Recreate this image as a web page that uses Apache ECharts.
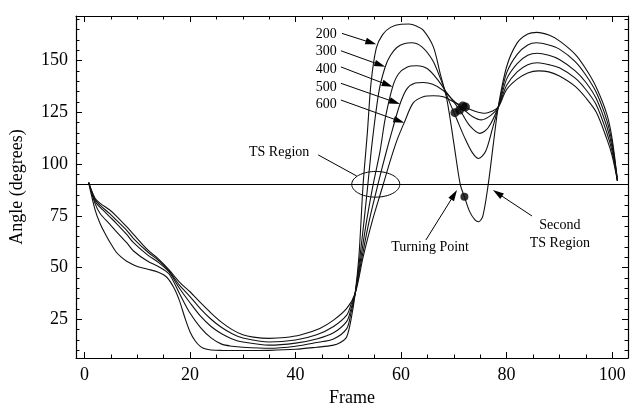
<!DOCTYPE html>
<html>
<head>
<meta charset="utf-8">
<script src="https://cdn.jsdelivr.net/npm/echarts@6/dist/echarts.min.js"></script>
<style>html,body{margin:0;padding:0;background:#fff}#c{width:630px;height:404px}</style>
</head>
<body>
<div id="c"></div>
<script>
// ---- Data ----
const curve200 = [[0.8,91],[2,78],[3,71],[4,66],[5,61.5],[6,57.5],[7,55],[8,53],[10,50.5],[12,49.2],[14,47.7],[15.6,45.3],[17,40],[18,34],[19,26],[20,19],[21,14.5],[22,11.8],[23,10.6],[24,10.2],[26,10],[30,9.9],[35,10],[40,10.5],[44,11.5],[47,12.4],[48.5,13.8],[49.7,16.6],[50.6,26],[51.3,37.5],[52,55],[52.4,72],[52.8,90],[53.6,114.8],[54.3,139],[55.3,156],[56.5,162.5],[58,166],[60,167.5],[61.5,167.6],[63,166.5],[64.2,164.7],[66.1,156.7],[67.4,143.8],[68.7,130.9],[70,110],[71.2,90.3],[72,84.2],[73,77],[74,73],[74.7,72.1],[75.5,75],[76.5,89.9],[77.5,110],[78.4,127.4],[80,147],[82,158.5],[84,162.8],[85.7,163.6],[88,162.3],[90,159.5],[93,153],[95,146],[97,137],[99,124],[100,112],[101,92]];
const curve300 = [[0.8,91],[2,81],[3,76],[4.8,71],[6,67.5],[8,62],[9.3,58],[12,53],[14,50.5],[16,47],[18,37.5],[20,28],[22,21],[24,16],[26,13],[28,12],[30,11.5],[35,11],[40,12],[44,13.8],[47.2,15.5],[49.7,20.5],[50.5,28],[51.3,37.5],[52.2,55],[53,73],[53.7,90],[54.5,110],[55.8,135],[57,147],[58,152.5],[59.2,156.3],[60.7,158.2],[62,158.6],[64,156.5],[66,150],[67.5,141],[69,131],[70.5,122],[72,113],[73.5,105.5],[74.7,102.7],[76,106],[77.3,117],[78.4,127.4],[80,144],[82,153],[84,157.5],[85.7,158.6],[88,157.5],[90,155.5],[93,149.5],[95,143],[97,134.5],[99,121],[100,110],[101,92]];
const curve400 = [[0.8,91],[2,82],[3,79],[4.8,74.5],[6,71.5],[8,66],[9.3,62],[12,56],[14,52.5],[16,48],[18,40],[20,33],[22,26.5],[24,21.5],[26,18],[28,15.5],[30,14],[35,12.5],[40,13.5],[44,15.5],[47.2,18.5],[49.7,24],[50.5,30],[51.3,37.5],[52.4,55],[53.5,73],[54.7,90],[56,106],[57,122],[58.4,137.3],[59.5,143.5],[61.1,146.8],[63,147.5],[65,146],[67,140.5],[68.5,135],[70,130],[71.5,124.5],[73,118.5],[74.9,114.8],[76.5,117.5],[78.4,127.4],[80,141],[82,148.5],[84,152.5],[85.8,153.5],[88,152.5],[90,150.5],[93,145],[95,139.5],[97,131.5],[99,118],[100,108],[101,92]];
const curve500 = [[0.8,91],[2,83],[3,80],[4.8,76],[6,73],[8,68],[9.3,64],[12,57.5],[14,53.5],[16,48.5],[18,41.5],[20,36],[22,30],[24,25],[26,21],[28,18],[30,16],[35,14],[40,15],[44,17.5],[47.2,21.5],[49.7,27],[50.5,32],[51.3,37.5],[52.6,55],[54,73],[55.6,90],[57,104],[58.4,117],[59.8,129],[61.1,136.3],[62.7,139.1],[64.2,139.4],[66,138.5],[68,135.5],[70,130.5],[72,126],[73.5,123],[75.2,121.3],[77,123.5],[78.4,127.4],[80,138],[82,144.5],[84,148],[85.9,148.9],[88,148],[90,146.5],[93,141.5],[95,136],[97,128.5],[99,115],[100,106],[101,92]];
const curve600 = [[0.8,91],[2,83.5],[3,81],[4.8,77.8],[6,75],[8,69.7],[9.3,66],[12,58.5],[14,54.2],[16,49],[18,43],[20,38.3],[22,33],[24,28],[26,23.5],[28,20],[30,17.5],[32,16.4],[35,15.8],[38,16.2],[40.9,17.4],[44.6,20.6],[47.2,24.6],[49.7,30.3],[51.3,37.5],[52.8,55],[54.6,73],[56.6,90],[58,102],[59.3,112],[60.6,120],[62.3,129.5],[64.2,132.5],[66.1,133],[68,132.5],[70,130],[72,127.5],[74,125.5],[75.9,124.5],[77.2,125.5],[78.4,127.4],[80,136],[82,141],[84,144],[86,145],[88,144.5],[90,142.5],[93,137.5],[95,132],[97,125],[99,112],[100,104],[101,92]];

const seriesNames = ['200','300','400','500','600'];
const seriesLabelX = 47.8;
const seriesLabelY = [162.8,154.2,145.9,137.0,128.9];
const seriesArrows = [[48.8,163.1,55.3,157.8],[48.6,154.7,57.0,147.0],[48.6,146.9,58.4,137.3],[48.6,139.0,59.8,129.0],[48.6,130.9,60.6,119.9]];
const otherArrows = [[64.7,63.3,70.6,87.4],[84.8,74.9,77.4,87.4]];
const leaderLines = [[44.3,104.4,51.6,94.2]];
const noteTexts = ['TS Region','Turning Point','Second','TS Region'];
const notePos = [[36.9,105.8],[65.5,60.0],[90.1,70.5],[90.1,61.7]];
const tsEllipse = [[55.2,90.2,4.55,6.2]]; // cx, cy, rx, ry (data units)
const clusterDots = [[70.2,124.8],[71.1,126.1],[71.7,128.0],[72.2,127.6]];
const turningDot = [[72.0,84.2]];
const refLineY = 90;

const xMajor = [0,20,40,60,80,100];
const xMinor = [5,10,15,25,30,35,45,50,55,65,70,75,85,90,95];
const yMajor = [25,50,75,100,125,150];
const yMinor = [10,15,20,30,35,40,45,55,60,65,70,80,85,90,95,105,110,115,120,130,135,140,145,155,160,165,170];
const xRange = [-1.6, 103];
const yRange = [6.3, 171.5];

// ---- Chart ----
const FONT = '"Liberation Serif", "Times New Roman", serif';
const chart = echarts.init(document.getElementById('c'), null, {renderer:'canvas'});

function xAxisDef(pos, ticks, len, showLine, showLabel) {
  return {
    type:'value', min:xRange[0], max:xRange[1], position:pos,
    splitLine:{show:false},
    axisLine:{show:showLine, onZero:false, lineStyle:{color:'#000', width:1.2}},
    axisTick:{show:true, inside:true, length:len, customValues:ticks, lineStyle:{color:'#000', width:1}},
    axisLabel:showLabel ? {show:true, customValues:ticks, color:'#000', fontSize:18, fontFamily:FONT, margin:8} : {show:false}
  };
}
function yAxisDef(pos, ticks, len, showLine, showLabel) {
  return {
    type:'value', min:yRange[0], max:yRange[1], position:pos,
    splitLine:{show:false},
    axisLine:{show:showLine, onZero:false, lineStyle:{color:'#000', width:1.2}},
    axisTick:{show:true, inside:true, length:len, customValues:ticks, lineStyle:{color:'#000', width:1}},
    axisLabel:showLabel ? {show:true, customValues:ticks, color:'#000', fontSize:18, fontFamily:FONT, margin:8} : {show:false}
  };
}

const xAxes = [
  Object.assign(xAxisDef('bottom', xMajor, 6, true, true), {name:'Frame', nameLocation:'middle', nameGap:27, nameTextStyle:{color:'#000', fontSize:18, fontFamily:FONT}}),
  xAxisDef('bottom', xMinor, 3.5, false, false),
  xAxisDef('top', xMajor, 6, true, false),
  xAxisDef('top', xMinor, 3.5, false, false)
];
const yAxes = [
  Object.assign(yAxisDef('left', yMajor, 6, true, true), {name:'Angle (degrees)', nameLocation:'middle', nameGap:50, nameRotate:90, nameTextStyle:{color:'#000', fontSize:18, fontFamily:FONT}}),
  yAxisDef('left', yMinor, 3.5, false, false),
  yAxisDef('right', yMajor, 6, true, false),
  yAxisDef('right', yMinor, 3.5, false, false)
];

const curves = [curve200, curve300, curve400, curve500, curve600];
const lineSeries = curves.map((d, i) => ({
  type:'line', name:seriesNames[i], data:d, showSymbol:false, smooth:0.3,
  xAxisIndex:0, yAxisIndex:0, silent:true,
  lineStyle:{color:'#111', width:1.1}
}));
lineSeries[0].markLine = {
  silent:true, symbol:['none','none'], label:{show:false},
  lineStyle:{color:'#000', width:1.2, type:'solid'},
  data:[{yAxis:refLineY}]
};

function arrowItem(params, api, head) {
  const p1 = api.coord([api.value(0), api.value(1)]);
  const p2 = api.coord([api.value(2), api.value(3)]);
  const dx = p2[0]-p1[0], dy = p2[1]-p1[1], L = Math.hypot(dx, dy);
  const ux = dx/L, uy = dy/L;
  if (!head) {
    return {type:'line', shape:{x1:p1[0], y1:p1[1], x2:p2[0], y2:p2[1]}, style:{stroke:'#000', lineWidth:1}};
  }
  const hl = 11, hw = 3.3;
  const bx = p2[0]-ux*hl, by = p2[1]-uy*hl;
  return {type:'group', children:[
    {type:'line', shape:{x1:p1[0], y1:p1[1], x2:bx+ux*2, y2:by+uy*2}, style:{stroke:'#000', lineWidth:1}},
    {type:'polygon', shape:{points:[[p2[0],p2[1]],[bx-uy*hw, by+ux*hw],[bx+uy*hw, by-ux*hw]]}, style:{fill:'#000'}}
  ]};
}

const option = {
  animation:false,
  backgroundColor:'#fff',
  grid:{left:76, right:2, top:16, bottom:46, containLabel:false, outerBoundsMode:'none'},
  xAxis:xAxes,
  yAxis:yAxes,
  series:[
    ...lineSeries,
    {type:'custom', silent:true, data:seriesArrows.concat(otherArrows), encode:{x:[0,2], y:[1,3]},
     renderItem:(p, api) => arrowItem(p, api, true)},
    {type:'custom', silent:true, data:leaderLines, encode:{x:[0,2], y:[1,3]},
     renderItem:(p, api) => arrowItem(p, api, false)},
    {type:'custom', silent:true, data:tsEllipse, encode:{x:0, y:1},
     renderItem:(p, api) => {
       const cx = api.value(0), cy = api.value(1), rx = api.value(2), ry = api.value(3);
       const pts = [];
       for (let k = 0; k < 72; k++) {
         const t = k/72*Math.PI*2;
         pts.push(api.coord([cx + rx*Math.cos(t), cy + ry*Math.sin(t)]));
       }
       return {type:'polygon', shape:{points:pts}, style:{fill:'none', stroke:'#000', lineWidth:1}};
     }},
    {type:'custom', silent:true, data:seriesLabelY.map(y => [seriesLabelX, y]), encode:{x:0, y:1},
     renderItem:(p, api) => {
       const c = api.coord([api.value(0), api.value(1)]);
       return {type:'text', x:c[0], y:c[1], style:{text:seriesNames[p.dataIndex], fill:'#000', font:'14px '+FONT, align:'right', verticalAlign:'middle'}};
     }},
    {type:'custom', silent:true, data:notePos, encode:{x:0, y:1},
     renderItem:(p, api) => {
       const c = api.coord([api.value(0), api.value(1)]);
       return {type:'text', x:c[0], y:c[1], style:{text:noteTexts[p.dataIndex], fill:'#000', font:'14px '+FONT, align:'center', verticalAlign:'middle'}};
     }},
    {type:'scatter', silent:true, data:clusterDots, symbolSize:9, itemStyle:{color:'#000'}},
    {type:'scatter', silent:true, data:turningDot, symbolSize:8, itemStyle:{color:'#000'}}
  ]
};
chart.setOption(option);
</script>
</body>
</html>
